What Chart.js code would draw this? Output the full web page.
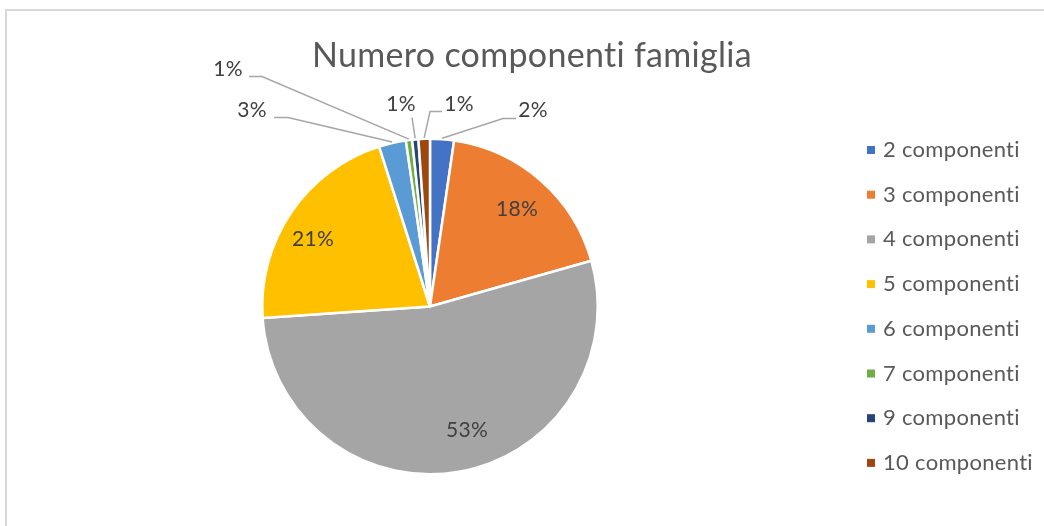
<!DOCTYPE html>
<html>
<head>
<meta charset="utf-8">
<script src="https://cdn.jsdelivr.net/npm/chart.js@4.4.1/dist/chart.umd.min.js"></script>
<style>
  html, body { margin: 0; padding: 0; background: #ffffff; }
  #wrap { position: relative; width: 1044px; height: 526px; overflow: hidden; }
  #frame { position: absolute; left: 5px; top: 9px; width: 1100px; height: 600px;
           border-left: 2px solid #D9D9D9; border-top: 2px solid #D9D9D9; box-sizing: border-box; }
  canvas { position: absolute; left: 0; top: 0; }
</style>
</head>
<body>
<div id="wrap">
  <div id="frame"></div>
  <canvas id="c" width="1044" height="526"></canvas>
</div>
<script>
// ---- data ----
const chartTitle = "Numero componenti famiglia";
const categories = ["2 componenti", "3 componenti", "4 componenti", "5 componenti",
                    "6 componenti", "7 componenti", "9 componenti", "10 componenti"];
const shares = [2.3, 18.3, 53.3, 21.2, 2.6, 0.6, 0.6, 1.1];
const sliceColors = ["#4472C4", "#ED7D31", "#A5A5A5", "#FFC000",
                     "#5B9BD5", "#70AD47", "#264478", "#9E480E"];

// ---- label layout (pixel offsets from pie centre) ----
const labelLayout = [
  { out: true,  text: [103, -196], pts: [[73, -188], [86, -188]] },
  { out: false, text: [87, -97] },
  { out: false, text: [37, 124] },
  { out: false, text: [-117, -67] },
  { out: true,  text: [-178, -196], pts: [[-142, -189], [-156, -189]] },
  { out: true,  text: [-202, -237], pts: [[-168, -230], [-181, -230]] },
  { out: true,  text: [-29, -202], pts: [[-18, -189]] },
  { out: true,  text: [29, -202], pts: [[0, -195], [12, -195]] }
];

const FONT = "Lato, 'Noto Sans', sans-serif";

const decorPlugin = {
  id: "decor",
  afterDraw(chart) {
    const ctx = chart.ctx;
    const meta = chart.getDatasetMeta(0);
    const total = shares.reduce((a, b) => a + b, 0);
    ctx.save();
    ctx.letterSpacing = "0.3px";
    // title
    ctx.fillStyle = "#595959";
    ctx.font = "34px " + FONT;
    ctx.textAlign = "center";
    ctx.textBaseline = "middle";
    ctx.fillText(chartTitle, 532, 56);

    // data labels
    meta.data.forEach((arc, i) => {
      const p = arc.getProps(["x", "y", "startAngle", "endAngle", "outerRadius"], true);
      const cx = p.x, cy = p.y;
      const lay = labelLayout[i];
      const txt = Math.round(shares[i] / total * 100) + "%";
      if (lay.out) {
        const mid = (p.startAngle + p.endAngle) / 2;
        const ax = cx + Math.cos(mid) * (p.outerRadius + 1);
        const ay = cy + Math.sin(mid) * (p.outerRadius + 1);
        ctx.strokeStyle = "#A6A6A6";
        ctx.lineWidth = 1.5;
        ctx.beginPath();
        ctx.moveTo(ax, ay);
        lay.pts.forEach(q => ctx.lineTo(cx + q[0], cy + q[1]));
        ctx.stroke();
      }
      ctx.fillStyle = "#404040";
      ctx.font = "21px " + FONT;
      ctx.textAlign = "center";
      ctx.textBaseline = "middle";
      ctx.fillText(txt, cx + lay.text[0], cy + lay.text[1]);
    });

    // legend
    ctx.font = "22px " + FONT;
    ctx.textAlign = "left";
    ctx.textBaseline = "middle";
    categories.forEach((name, i) => {
      const y = 150 + i * 44.7;
      ctx.fillStyle = sliceColors[i];
      ctx.fillRect(867, y - 4, 8, 8);
      ctx.fillStyle = "#595959";
      ctx.fillText(name, 883, y);
    });
    ctx.restore();
  }
};

new Chart(document.getElementById("c"), {
  type: "pie",
  data: {
    labels: categories,
    datasets: [{
      data: shares,
      backgroundColor: sliceColors,
      borderColor: "#ffffff",
      borderWidth: 2.5
    }]
  },
  options: {
    responsive: false,
    animation: false,
    layout: { padding: { left: 261, right: 445, top: 137, bottom: 50 } },
    plugins: {
      legend: { display: false },
      title: { display: false },
      tooltip: { enabled: false }
    }
  },
  plugins: [decorPlugin]
});
</script>
</body>
</html>
